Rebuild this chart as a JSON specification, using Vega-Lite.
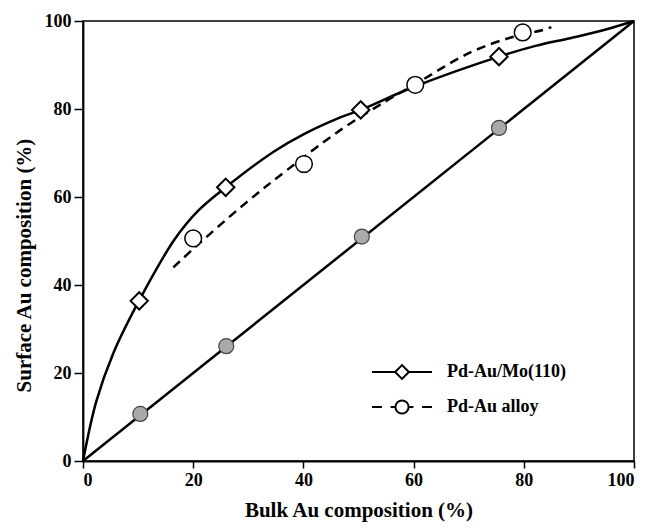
{
  "$schema": "https://vega.github.io/schema/vega-lite/v6.json",
  "width": 551,
  "height": 440,
  "autosize": {"type": "none"},
  "padding": {"left": 83, "top": 21, "right": 12, "bottom": 67},
  "background": "white",
  "config": {
    "view": {"stroke": "black", "strokeWidth": 1.5},
    "axis": {
      "labelFont": "Liberation Serif",
      "labelFontWeight": "bold",
      "labelFontSize": 18,
      "labelColor": "black",
      "titleFont": "Liberation Serif",
      "titleFontWeight": "bold",
      "titleFontSize": 21,
      "titleColor": "black",
      "domainColor": "black",
      "domainWidth": 1.8,
      "tickColor": "black",
      "tickWidth": 1.5,
      "grid": false
    }
  },
  "datasets": {
    "diag": [{"x": 0, "y": 0}, {"x": 100, "y": 100}],
    "mo_curve": [
      {"x": 0, "y": 0}, {"x": 2.4, "y": 13.5}, {"x": 5.5, "y": 24.5}, {"x": 10.2, "y": 36.5},
      {"x": 16.7, "y": 50.5}, {"x": 21, "y": 57}, {"x": 25.9, "y": 62.2}, {"x": 34.6, "y": 70.3},
      {"x": 40.1, "y": 74.3}, {"x": 46.7, "y": 78.1}, {"x": 50.4, "y": 79.8}, {"x": 60, "y": 85},
      {"x": 75.5, "y": 91.9}, {"x": 82.3, "y": 94.4}, {"x": 88.4, "y": 96.1}, {"x": 94.4, "y": 97.9},
      {"x": 100, "y": 100}
    ],
    "alloy_curve": [
      {"x": 16.4, "y": 44}, {"x": 20, "y": 48.2}, {"x": 29.4, "y": 58.5}, {"x": 37, "y": 66.1},
      {"x": 46.7, "y": 75.2}, {"x": 55, "y": 81.8}, {"x": 60, "y": 85.4}, {"x": 70.2, "y": 92.8},
      {"x": 77.8, "y": 96.3}, {"x": 83.6, "y": 98}, {"x": 85, "y": 98.6}
    ],
    "bulk": [
      {"x": 10.4, "y": 10.7}, {"x": 26, "y": 26.1}, {"x": 50.6, "y": 51}, {"x": 75.5, "y": 75.7}
    ],
    "mo_pts": [
      {"x": 10.2, "y": 36.4}, {"x": 25.9, "y": 62.2}, {"x": 50.4, "y": 79.8}, {"x": 75.5, "y": 91.9}
    ],
    "alloy_pts": [
      {"x": 20, "y": 50.6}, {"x": 40.1, "y": 67.5}, {"x": 60.3, "y": 85.5}, {"x": 79.8, "y": 97.4}
    ],
    "legend": [
      {"series": "Pd-Au/Mo(110)", "x": 50, "y": 50},
      {"series": "Pd-Au alloy", "x": 50, "y": 50}
    ]
  },
  "encoding": {
    "x": {
      "field": "x", "type": "quantitative",
      "scale": {"domain": [0, 100], "nice": false},
      "axis": {"title": "Bulk Au composition (%)", "values": [0, 20, 40, 60, 80, 100], "tickSize": 7, "labelPadding": 3, "titlePadding": 10}
    },
    "y": {
      "field": "y", "type": "quantitative",
      "scale": {"domain": [0, 100], "nice": false},
      "axis": {"title": "Surface Au composition (%)", "values": [0, 20, 40, 60, 80, 100], "tickSize": 9, "labelPadding": 3, "titlePadding": 10, "titleY": 244}
    }
  },
  "layer": [
    {"data": {"name": "diag"}, "mark": {"type": "line", "color": "black", "strokeWidth": 2.5}},
    {"data": {"name": "mo_curve"}, "mark": {"type": "line", "color": "black", "strokeWidth": 2.5, "interpolate": "catmull-rom"}},
    {"data": {"name": "alloy_curve"}, "mark": {"type": "line", "color": "black", "strokeWidth": 2.5, "strokeDash": [9, 6], "interpolate": "catmull-rom"}},
    {"data": {"name": "bulk"}, "mark": {"type": "point", "shape": "circle", "filled": true, "fill": "#aaaaaa", "stroke": "#444444", "strokeWidth": 1.2, "size": 225, "opacity": 1}},
    {"data": {"name": "mo_pts"}, "mark": {"type": "point", "shape": "diamond", "filled": true, "fill": "white", "stroke": "black", "strokeWidth": 2, "size": 300, "opacity": 1}},
    {"data": {"name": "alloy_pts"}, "mark": {"type": "point", "shape": "circle", "filled": true, "fill": "white", "stroke": "black", "strokeWidth": 1.5, "size": 280, "opacity": 1}},
    {
      "data": {"name": "legend"},
      "mark": {"type": "point", "opacity": 0, "size": 10},
      "encoding": {
        "shape": {
          "field": "series", "type": "nominal",
          "scale": {
            "domain": ["Pd-Au/Mo(110)", "Pd-Au alloy"],
            "range": [
              "M-1,0H-0.23M0.23,0H1M-0.23,0L0,-0.23L0.23,0L0,0.23Z",
              "M-1,0H-0.67M-0.38,0H-0.22M0.22,0H0.38M0.67,0H1M-0.22,0A0.22,0.22 0 1,0 0.22,0A0.22,0.22 0 1,0 -0.22,0Z"
            ]
          },
          "legend": {
            "title": null,
            "orient": "none",
            "legendX": 288,
            "legendY": 341,
            "padding": 0,
            "symbolSize": 3600,
            "symbolStrokeWidth": 2,
            "symbolStrokeColor": "black",
            "symbolFillColor": "white",
            "symbolOpacity": 1,
            "labelFont": "Liberation Serif",
            "labelFontWeight": "bold",
            "labelFontSize": 18,
            "labelColor": "black",
            "labelOffset": 14,
            "clipHeight": 20,
            "rowPadding": 15
          }
        }
      }
    }
  ]
}
